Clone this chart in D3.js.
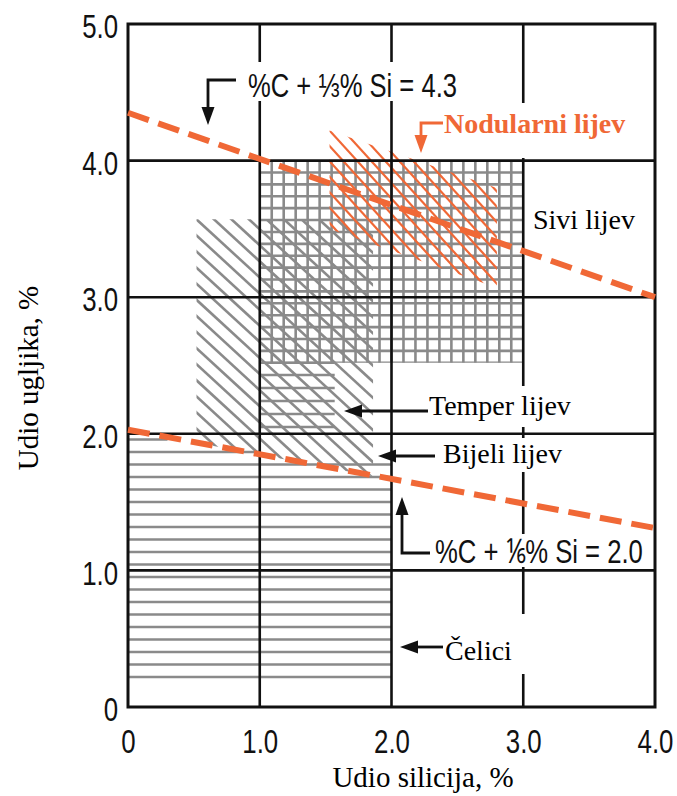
<!DOCTYPE html>
<html>
<head>
<meta charset="utf-8">
<script src="https://cdn.jsdelivr.net/npm/d3@7"></script>
<style>
  html, body { margin: 0; padding: 0; background: #fff; }
  svg { display: block; }
</style>
</head>
<body>
<svg id="chart" width="677" height="796"></svg>
<script>
// ---------------- DATA ----------------
const xTickValues = [0, 1, 2, 3, 4];
const xTickLabels = ["0", "1.0", "2.0", "3.0", "4.0"];
const yTickValues = [0, 1, 2, 3, 4, 5];
const yTickLabels = ["0", "1.0", "2.0", "3.0", "4.0", "5.0"];
const gridX = [1, 2, 3];
const gridY = [1, 2, 3, 4];

// Boundary lines  (Si %, C %)
const lineCE43 = [[0, 4.35], [4, 3.0]];   // %C + 1/3 %Si = 4.3
const lineCE20 = [[0, 2.03], [4, 1.31]];  // %C + 1/6 %Si = 2.0

// Regions (Si %, C %)
const steelRegion = [[0, 0.17], [0, 2.0], [0.3, 2.0], [0.3, 1.91], [1.0, 1.91], [1.0, 1.82], [2.0, 1.82], [2.0, 0.17]];
const steelLevelStart = 0.22, steelLevelEnd = 1.97;
const whiteIronRegion = [[0.52, 3.57], [1.86, 3.57], [1.86, 1.69], [0.52, 1.935]];
const malleableRegion = [[1.0, 2.03], [1.0, 2.53], [1.57, 2.53], [1.57, 2.03]];
const malleableLevels = [2.05, 2.145, 2.24, 2.335, 2.43, 2.52];
const grayIronRegion = [[1.0, 2.52], [1.0, 4.0], [3.0, 4.0], [3.0, 2.52]];
const nodularRegion = [[1.53, 4.22], [2.8, 3.80], [2.8, 3.07], [1.53, 3.50]];

// Labels
const labelEq1 = ["%C + ", "⅓", "% Si = 4.3"];
const labelEq2 = ["%C + ", "⅙", "% Si = 2.0"];
const labelNodular = "Nodularni lijev";
const labelGray = "Sivi lijev";
const labelMalleable = "Temper lijev";
const labelWhite = "Bijeli lijev";
const labelSteel = "Čelici";
const xTitle = "Udio silicija, %";
const yTitle = "Udio ugljika, %";

// ---------------- SETUP ----------------
const svg = d3.select("#chart");
const x = d3.scaleLinear().domain([0, 4]).range([128, 655]);
const y = d3.scaleLinear().domain([0, 5]).range([707, 24]);
const ORANGE = "#f06836";
const HATCH = "#8a8a8a";
const SANS = "'Liberation Sans', Arial, sans-serif";
const SERIF = "'Liberation Serif', 'Times New Roman', serif";
const NARROW_SCALE = 0.76;

const defs = svg.append("defs");
let clipId = 0;
function clip(region) {
  const id = "clip" + (clipId++);
  defs.append("clipPath").attr("id", id)
    .append("polygon")
    .attr("points", region.map(d => [x(d[0]), y(d[1])].join(",")).join(" "));
  return "url(#" + id + ")";
}
function bbox(region) {
  const xs = region.map(d => x(d[0])), ys = region.map(d => y(d[1]));
  return [d3.min(xs), d3.min(ys), d3.max(xs), d3.max(ys)];
}

const hatchLayer = svg.append("g");

// Steel: horizontal lines
{
  const g = hatchLayer.append("g").attr("clip-path", clip(steelRegion));
  const step = 0.0915;
  const levels = d3.range(steelLevelStart, steelLevelEnd, step);
  g.selectAll("line").data(levels).join("line")
    .attr("x1", x(0)).attr("x2", x(2))
    .attr("y1", d => y(d)).attr("y2", d => y(d))
    .attr("stroke", HATCH).attr("stroke-width", 2.6);
}
// Malleable: horizontal lines
{
  const g = hatchLayer.append("g").attr("clip-path", clip(malleableRegion));
  g.selectAll("line").data(malleableLevels).join("line")
    .attr("x1", x(1.0)).attr("x2", x(1.57))
    .attr("y1", d => y(d)).attr("y2", d => y(d))
    .attr("stroke", HATCH).attr("stroke-width", 2.6);
}
// Diagonal hatch helper (pixel slope, horizontal spacing, anchor point)
function diagHatch(region, slope, spacing, ax, ay, color, width) {
  const g = hatchLayer.append("g").attr("clip-path", clip(region));
  const [x0, y0, x1, y1] = bbox(region);
  const kMin = Math.floor(((x0 - ax) - (y1 - ay) / slope) / spacing) - 1;
  const kMax = Math.ceil(((x1 - ax) - (y0 - ay) / slope) / spacing) + 1;
  const ks = d3.range(kMin, kMax + 1);
  g.selectAll("line").data(ks).join("line")
    .attr("x1", k => x0 - 5)
    .attr("y1", k => ay + slope * (x0 - 5 - ax - k * spacing))
    .attr("x2", k => x1 + 5)
    .attr("y2", k => ay + slope * (x1 + 5 - ax - k * spacing))
    .attr("stroke", color).attr("stroke-width", width);
}
// White iron: diagonal
diagHatch(whiteIronRegion, 0.92, 17.5, x(0.52), y(3.57), HATCH, 2.6);
// Gray iron: square grid
{
  const g = hatchLayer.append("g").attr("clip-path", clip(grayIronRegion));
  const vx = d3.range(0, 23).map(i => 1.0 + i * (2 / 22));
  const hy = d3.range(0, 18).map(i => 2.52 + i * (1.48 / 17));
  g.selectAll("line.v").data(vx).join("line").attr("class", "v")
    .attr("x1", d => x(d)).attr("x2", d => x(d))
    .attr("y1", y(4.0)).attr("y2", y(2.52))
    .attr("stroke", HATCH).attr("stroke-width", 2.6);
  g.selectAll("line.h").data(hy).join("line").attr("class", "h")
    .attr("x1", x(1.0)).attr("x2", x(3.0))
    .attr("y1", d => y(d)).attr("y2", d => y(d))
    .attr("stroke", HATCH).attr("stroke-width", 2.6);
}
// Nodular: orange diagonal
diagHatch(nodularRegion, 1.1, 14, x(1.53), y(4.22), ORANGE, 2.2);

// ---------------- GRID & FRAME ----------------
const gridG = svg.append("g");
gridG.selectAll("line.gx").data(gridX).join("line").attr("class", "gx")
  .attr("x1", d => x(d)).attr("x2", d => x(d))
  .attr("y1", y(5)).attr("y2", y(0))
  .attr("stroke", "#111").attr("stroke-width", 2.6);
gridG.selectAll("line.gy").data(gridY).join("line").attr("class", "gy")
  .attr("x1", x(0)).attr("x2", x(4))
  .attr("y1", d => y(d)).attr("y2", d => y(d))
  .attr("stroke", "#111").attr("stroke-width", 2.6);

// label backgrounds (white boxes)
const boxes = [
  [238, 62, 234, 39],   // eq1
  [435, 103, 215, 55],  // nodular
  [527, 198, 124, 44],  // gray
  [426, 386, 160, 41],  // temper
  [436, 438, 146, 34],  // bijeli
  [430, 534, 221, 33],  // eq2
  [441, 614, 210, 60]   // celici
];
svg.append("g").selectAll("rect").data(boxes).join("rect")
  .attr("x", d => d[0]).attr("y", d => d[1]).attr("width", d => d[2]).attr("height", d => d[3])
  .attr("fill", "#fff");

svg.append("rect")
  .attr("x", x(0)).attr("y", y(5)).attr("width", x(4) - x(0)).attr("height", y(0) - y(5))
  .attr("fill", "none").attr("stroke", "#111").attr("stroke-width", 3);

// ---------------- DASHED BOUNDARY LINES ----------------
const lineGen = d3.line().x(d => x(d[0])).y(d => y(d[1]));
[lineCE43, lineCE20].forEach(l => {
  svg.append("path").attr("d", lineGen(l))
    .attr("fill", "none").attr("stroke", ORANGE).attr("stroke-width", 6)
    .attr("stroke-dasharray", "22,10");
});

// ---------------- AXES ----------------
const yAxis = d3.axisLeft(y).tickValues(yTickValues)
  .tickFormat((d, i) => yTickLabels[i]).tickSize(0).tickPadding(13);
const yAxG = svg.append("g").attr("transform", `translate(${x(0)},0)`).call(yAxis);
yAxG.select(".domain").remove();
yAxG.selectAll("text").attr("font-family", SANS).attr("font-size", 34).attr("fill", "#111")
  .attr("dy", "0.40em").attr("transform", `scale(${NARROW_SCALE},1)`);

const xAxis = d3.axisBottom(x).tickValues(xTickValues)
  .tickFormat((d, i) => xTickLabels[i]).tickSize(0).tickPadding(22);
const xAxG = svg.append("g").attr("transform", `translate(0,${y(0)})`).call(xAxis);
xAxG.select(".domain").remove();
xAxG.selectAll("text").attr("font-family", SANS).attr("font-size", 34).attr("fill", "#111")
  .attr("transform", `scale(${NARROW_SCALE},1)`);

svg.append("text").attr("x", 423).attr("y", 787).attr("text-anchor", "middle")
  .attr("font-family", SERIF).attr("font-size", 29).attr("fill", "#000").text(xTitle);
svg.append("text").attr("transform", "translate(38,378) rotate(-90)").attr("text-anchor", "middle")
  .attr("font-family", SERIF).attr("font-size", 29).attr("fill", "#000").text(yTitle);

// ---------------- ANNOTATIONS ----------------
function arrow(pts, color) {
  const n = pts.length;
  const [tx, ty] = pts[n - 1], [px, py] = pts[n - 2];
  const len = Math.hypot(tx - px, ty - py);
  const ux = (tx - px) / len, uy = (ty - py) / len;
  const L = 18, Wd = 6.5;
  const bx = tx - ux * L, by = ty - uy * L;
  const shaft = pts.slice(0, n - 1).concat([[bx + ux * 2, by + uy * 2]]);
  svg.append("path").attr("d", d3.line()(shaft))
    .attr("fill", "none").attr("stroke", color).attr("stroke-width", 2.8);
  svg.append("path")
    .attr("d", `M${tx},${ty}L${bx - uy * Wd},${by + ux * Wd}L${bx + uy * Wd},${by - ux * Wd}Z`)
    .attr("fill", color);
}
arrow([[236, 80], [208, 80], [208, 125]], "#111");
arrow([[443, 123], [421, 123], [421, 153]], ORANGE);
arrow([[428, 411], [344, 411]], "#111");
arrow([[435, 456], [378, 456]], "#111");
arrow([[430, 553], [402, 553], [402, 497]], "#111");
arrow([[443, 647], [400, 647]], "#111");

function eqText(parts, tx, ty, targetW) {
  const g = svg.append("g").attr("transform", `translate(${tx},${ty})`);
  const t = g.append("text").attr("x", 0).attr("y", 0)
    .attr("font-family", SANS).attr("font-size", 34).attr("fill", "#111");
  parts.forEach(p => t.append("tspan").text(p));
  const w = t.node().getComputedTextLength();
  const s = w > 0 ? targetW / w : NARROW_SCALE;
  t.attr("transform", `scale(${s},1)`);
}
eqText(labelEq1, 248, 97, 209);
eqText(labelEq2, 435, 563, 208);

svg.append("text").attr("x", 444).attr("y", 133)
  .attr("font-family", SERIF).attr("font-weight", "bold").attr("font-size", 28)
  .attr("fill", ORANGE).text(labelNodular);
const serifLabels = [
  [labelGray, 533, 229],
  [labelMalleable, 429, 415],
  [labelWhite, 443, 463],
  [labelSteel, 445, 660]
];
serifLabels.forEach(([s, tx, ty]) => {
  svg.append("text").attr("x", tx).attr("y", ty)
    .attr("font-family", SERIF).attr("font-size", 28).attr("fill", "#000").text(s);
});
</script>
</body>
</html>
